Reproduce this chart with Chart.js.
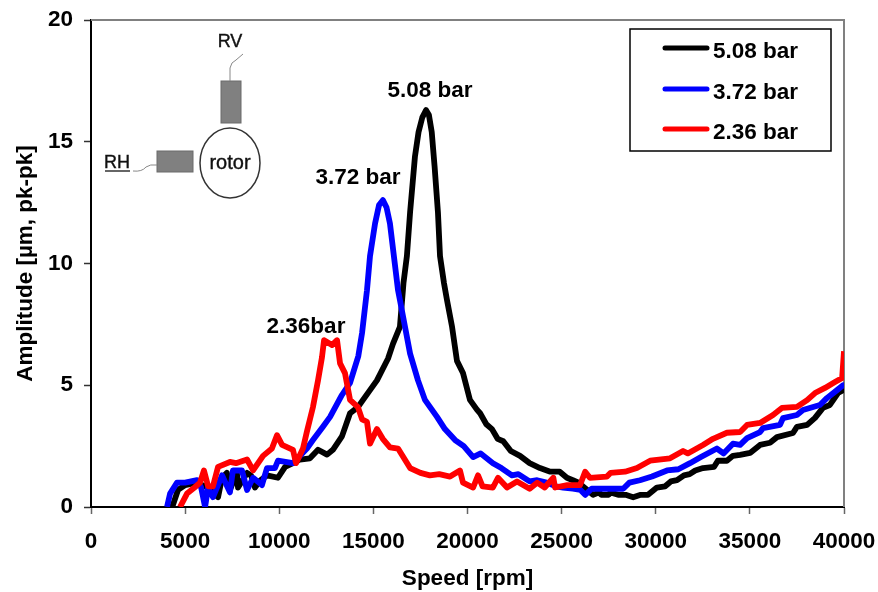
<!DOCTYPE html>
<html>
<head>
<meta charset="utf-8">
<title>Amplitude vs speed</title>
<script src="https://cdn.jsdelivr.net/npm/chart.js@4"></script>
<style>
  html, body { margin: 0; padding: 0; background: #fff; }
  #wrap { position: relative; width: 878px; height: 592px; }
</style>
</head>
<body>
<div id="wrap"><canvas id="ampChart"></canvas></div>
<script>
// Values
const labels = ['5.08 bar', '3.72 bar', '2.36 bar'];
const xTicks = [0, 5000, 10000, 15000, 20000, 25000, 30000, 35000, 40000];
const yTicks = [0, 5, 10, 15, 20];

const blackSpeed = [4300, 4360, 4620, 5000, 5600, 6200, 6500, 6750, 6960, 7220, 7380, 7750, 7810, 8290, 8500, 8710, 9000, 9350, 9930, 10310, 10730, 11100, 11630, 12060, 12540, 12850, 13330, 13760, 14180, 14450, 14820, 15190, 15780, 16040, 16410, 16600, 16780, 16950, 17210, 17400, 17600, 17800, 17950, 18100, 18250, 18430, 18540, 18750, 18910, 19180, 19440, 19760, 20130, 20500, 20670, 21000, 21300, 21600, 21900, 22300, 22790, 23300, 23850, 24400, 24900, 25280, 25600, 25900, 26200, 26670, 27000, 27100, 27500, 27600, 28000, 28400, 28800, 29200, 29590, 30060, 30500, 30800, 31130, 31500, 31800, 32100, 32510, 33100, 33300, 33780, 34100, 34480, 35010, 35540, 36070, 36440, 37290, 37500, 38040, 38460, 38880, 39250, 39680, 39950, 40000];
const blackAmp = [0, 0.1, 0.7, 0.9, 1, 0.8, 0.6, 0.4, 1.2, 1.4, 0.7, 1.4, 0.8, 1.4, 1.3, 0.8, 1.1, 1.3, 1.2, 1.65, 1.8, 1.95, 2, 2.35, 2.15, 2.35, 2.9, 3.85, 4.1, 4.4, 4.8, 5.2, 6.1, 6.7, 7.4, 9.2, 10.3, 12.1, 14.4, 15.4, 16, 16.3, 16.1, 15.4, 14, 12.1, 10.3, 9.2, 8.5, 7.4, 6, 5.5, 4.4, 4, 3.85, 3.4, 3.2, 2.8, 2.7, 2.3, 2.1, 1.8, 1.6, 1.45, 1.45, 1.2, 1.1, 1, 0.8, 0.5, 0.6, 0.5, 0.5, 0.6, 0.5, 0.5, 0.4, 0.5, 0.5, 0.8, 0.85, 1.05, 1.1, 1.3, 1.35, 1.5, 1.6, 1.65, 1.9, 1.9, 2.1, 2.14, 2.22, 2.55, 2.64, 2.87, 3.04, 3.29, 3.37, 3.66, 4.07, 4.19, 4.68, 4.8, 4.9];

const blueSpeed = [4040, 4200, 4570, 5000, 5630, 5850, 6060, 6220, 6480, 6960, 7380, 7540, 8020, 8290, 8610, 9080, 9350, 9770, 9930, 10730, 11470, 11790, 12320, 12700, 13330, 13760, 14200, 14400, 14660, 14820, 15090, 15300, 15510, 15700, 15880, 16090, 16310, 16410, 16680, 16950, 17370, 17740, 18380, 18800, 19340, 19800, 20300, 20700, 21350, 21800, 22360, 22700, 23300, 23700, 24200, 24700, 25080, 25600, 26000, 26250, 26600, 27300, 28270, 28600, 29160, 29800, 30600, 31200, 31820, 32400, 33250, 33600, 34100, 34480, 34850, 35540, 35700, 36600, 36760, 37500, 37820, 38720, 39100, 39630, 39950, 40000];
const blueAmp = [0, 0.55, 1, 1, 1.1, 0.8, 0, 0.8, 0.4, 1.3, 0.6, 1.5, 1.5, 0.7, 1.2, 0.9, 1.6, 1.6, 1.9, 1.8, 2.4, 2.75, 3.3, 3.7, 4.6, 5.1, 6.2, 7.15, 8.9, 10.3, 11.65, 12.4, 12.6, 12.3, 11.65, 10.3, 8.9, 8.5, 7.4, 6.3, 5.2, 4.4, 3.7, 3.2, 2.75, 2.5, 2.05, 2.2, 1.8, 1.6, 1.3, 1.35, 1.05, 1.1, 1, 0.85, 0.8, 0.75, 0.7, 0.5, 0.75, 0.75, 0.75, 1, 1.1, 1.25, 1.5, 1.55, 1.8, 2.05, 2.4, 2.2, 2.6, 2.55, 2.83, 3.08, 3.24, 3.37, 3.65, 3.78, 3.98, 4.19, 4.48, 4.8, 5, 5];

const redSpeed = [4730, 5100, 5500, 5790, 6000, 6220, 6480, 6750, 7380, 7700, 8290, 8610, 9140, 9610, 9880, 10150, 10730, 10890, 11260, 11470, 11790, 12060, 12270, 12380, 12800, 13070, 13230, 13490, 13760, 14180, 14400, 14660, 14820, 15190, 15500, 15880, 16310, 16950, 17500, 18000, 18500, 19070, 19600, 19760, 20300, 20560, 20800, 21350, 21620, 22100, 22630, 23300, 23700, 24100, 24560, 24650, 25300, 25980, 26250, 26500, 27400, 27600, 28370, 29000, 29700, 30760, 31450, 31700, 32510, 33040, 33780, 34480, 34850, 35540, 36230, 36700, 37500, 38040, 38460, 38990, 39520, 39900, 40000];
const redAmp = [0, 0.55, 0.8, 1, 1.5, 0.85, 0.85, 1.65, 1.85, 1.8, 1.95, 1.5, 2.1, 2.4, 2.95, 2.55, 2.35, 1.8, 2.4, 3.1, 4.1, 5.2, 6.15, 6.85, 6.65, 6.85, 5.9, 5.5, 4.4, 4.1, 3.6, 3.5, 2.6, 3.2, 2.8, 2.45, 2.4, 1.6, 1.4, 1.3, 1.35, 1.25, 1.5, 1, 0.8, 1.3, 0.85, 0.8, 1.2, 0.8, 1.05, 0.75, 1, 0.8, 1.2, 0.8, 0.9, 0.9, 1.45, 1.2, 1.25, 1.4, 1.45, 1.6, 1.9, 2, 2.3, 2.2, 2.55, 2.8, 3.05, 3.08, 3.37, 3.45, 3.78, 4.07, 4.11, 4.39, 4.68, 4.89, 5.13, 5.3, 6.4];

// In-plot labels, placed in data units
const peakLabels = ['5.08 bar', '3.72 bar', '2.36bar'];
const peakLabelX = [18010, 14180, 11420];
const peakLabelY = [17.1, 13.5, 7.4];

const textFont = '"Liberation Sans", Arial, sans-serif';
const boldFont = { family: textFont, size: 22.5, weight: 'bold' };

function toPoints(xs, ys) {
    return xs.map((x, i) => ({ x: x, y: ys[i] }));
}

// Grey top/right frame goes under the curves
const frame = {
    id: 'frame',
    beforeDatasetsDraw(chart) {
        const ctx = chart.ctx;
        const area = chart.chartArea;
        ctx.save();
        ctx.strokeStyle = '#808080';
        ctx.lineWidth = 2;
        ctx.beginPath();
        ctx.moveTo(area.left, area.top);
        ctx.lineTo(area.right, area.top);
        ctx.lineTo(area.right, area.bottom);
        ctx.stroke();
        ctx.restore();
    }
};

// Peak labels, the rotor sketch and the boxed legend
const extras = {
    id: 'extras',
    afterDatasetsDraw(chart) {
        const ctx = chart.ctx;
        const sx = chart.scales.x;
        const sy = chart.scales.y;
        ctx.save();

        ctx.fillStyle = '#000';
        ctx.font = 'bold 22.5px ' + textFont;
        ctx.textAlign = 'center';
        ctx.textBaseline = 'middle';
        peakLabels.forEach((t, i) => {
            ctx.fillText(t, sx.getPixelForValue(peakLabelX[i]), sy.getPixelForValue(peakLabelY[i]));
        });

        // legend box
        ctx.fillStyle = '#fff';
        ctx.fillRect(630, 29, 201, 122);
        ctx.strokeStyle = '#000';
        ctx.lineWidth = 1.5;
        ctx.strokeRect(630, 29, 201, 122);
        ctx.textAlign = 'left';
        const rows = [48, 89, 129];
        chart.data.datasets.forEach((ds, i) => {
            ctx.strokeStyle = ds.borderColor;
            ctx.lineWidth = 5;
            ctx.lineCap = 'round';
            ctx.beginPath();
            ctx.moveTo(665, rows[i]);
            ctx.lineTo(707, rows[i]);
            ctx.stroke();
            ctx.fillStyle = '#000';
            ctx.fillText(ds.label, 713, rows[i] + 4);
        });

        // rotor sketch
        ctx.lineCap = 'butt';
        ctx.fillStyle = '#808080';
        ctx.strokeStyle = '#6a6a6a';
        ctx.lineWidth = 1;
        ctx.fillRect(221, 81, 20, 42);
        ctx.strokeRect(221, 81, 20, 42);
        ctx.fillRect(157, 151, 36, 21);
        ctx.strokeRect(157, 151, 36, 21);

        ctx.strokeStyle = '#333';
        ctx.lineWidth = 1.5;
        ctx.beginPath();
        ctx.ellipse(230, 163, 30, 35, 0, 0, Math.PI * 2);
        ctx.stroke();

        ctx.strokeStyle = '#888';
        ctx.lineWidth = 1;
        ctx.beginPath();
        ctx.moveTo(230, 81);
        ctx.lineTo(230, 68);
        ctx.quadraticCurveTo(231, 62, 236, 60);
        ctx.lineTo(243, 54);
        ctx.moveTo(133, 171);
        ctx.quadraticCurveTo(142, 172, 146, 167);
        ctx.quadraticCurveTo(150, 164, 157, 165);
        ctx.stroke();

        ctx.fillStyle = '#111';
        ctx.strokeStyle = '#111';
        ctx.lineWidth = 0.4;
        ctx.font = '18px ' + textFont;
        ctx.textBaseline = 'alphabetic';
        ctx.textAlign = 'center';
        ctx.fillText('RV', 230, 47);
        ctx.strokeText('RV', 230, 47);
        ctx.fillText('RH', 117, 168);
        ctx.strokeText('RH', 117, 168);
        ctx.font = '20px ' + textFont;
        ctx.fillText('rotor', 230, 169);
        ctx.strokeText('rotor', 230, 169);
        ctx.strokeStyle = '#333';
        ctx.lineWidth = 1.5;
        ctx.beginPath();
        ctx.moveTo(105, 171);
        ctx.lineTo(130, 171);
        ctx.stroke();

        ctx.restore();
    }
};

const makeLine = (label, xs, ys, color, order) => ({
    label: label,
    data: toPoints(xs, ys),
    borderColor: color,
    backgroundColor: color,
    borderWidth: 5.8,
    pointRadius: 0,
    tension: 0,
    borderJoinStyle: 'round',
    order: order
});

new Chart(document.getElementById('ampChart'), {
    type: 'line',
    data: {
        datasets: [
            makeLine(labels[0], blackSpeed, blackAmp, '#000000', 2),
            makeLine(labels[1], blueSpeed, blueAmp, '#0000ff', 1),
            makeLine(labels[2], redSpeed, redAmp, '#ff0000', 0)
        ]
    },
    options: {
        responsive: true,
        maintainAspectRatio: false,
        animation: false,
        layout: { padding: { left: 0, top: 20, right: 34, bottom: 0 } },
        plugins: { legend: { display: false }, tooltip: { enabled: false } },
        scales: {
            x: {
                type: 'linear',
                min: 0,
                max: 40000,
                afterBuildTicks: s => { s.ticks = xTicks.map(v => ({ value: v })); },
                afterFit: s => { s.height = 85; s.paddingLeft = 0; s.paddingRight = 0; },
                border: { color: '#000', width: 2 },
                grid: { drawOnChartArea: false, color: '#666', tickLength: 7, tickWidth: 1.5 },
                ticks: {
                    color: '#000',
                    font: boldFont,
                    maxRotation: 0,
                    autoSkip: false,
                    padding: 14,
                    callback: v => String(v)
                },
                title: {
                    display: true,
                    text: 'Speed [rpm]',
                    color: '#000',
                    font: boldFont,
                    padding: { top: 0, bottom: 0 }
                }
            },
            y: {
                min: 0,
                max: 20,
                afterBuildTicks: s => { s.ticks = yTicks.map(v => ({ value: v })); },
                afterFit: s => { s.width = 91; s.paddingTop = 0; s.paddingBottom = 0; },
                border: { color: '#000', width: 2 },
                grid: { drawOnChartArea: false, color: '#333', tickLength: 7, tickWidth: 1.5 },
                ticks: {
                    color: '#000',
                    font: boldFont,
                    padding: 11
                },
                title: {
                    display: true,
                    text: 'Amplitude [µm, pk-pk]',
                    color: '#000',
                    font: boldFont,
                    padding: { top: 12, bottom: 0 }
                }
            }
        }
    },
    plugins: [frame, extras]
});
</script>
</body>
</html>
